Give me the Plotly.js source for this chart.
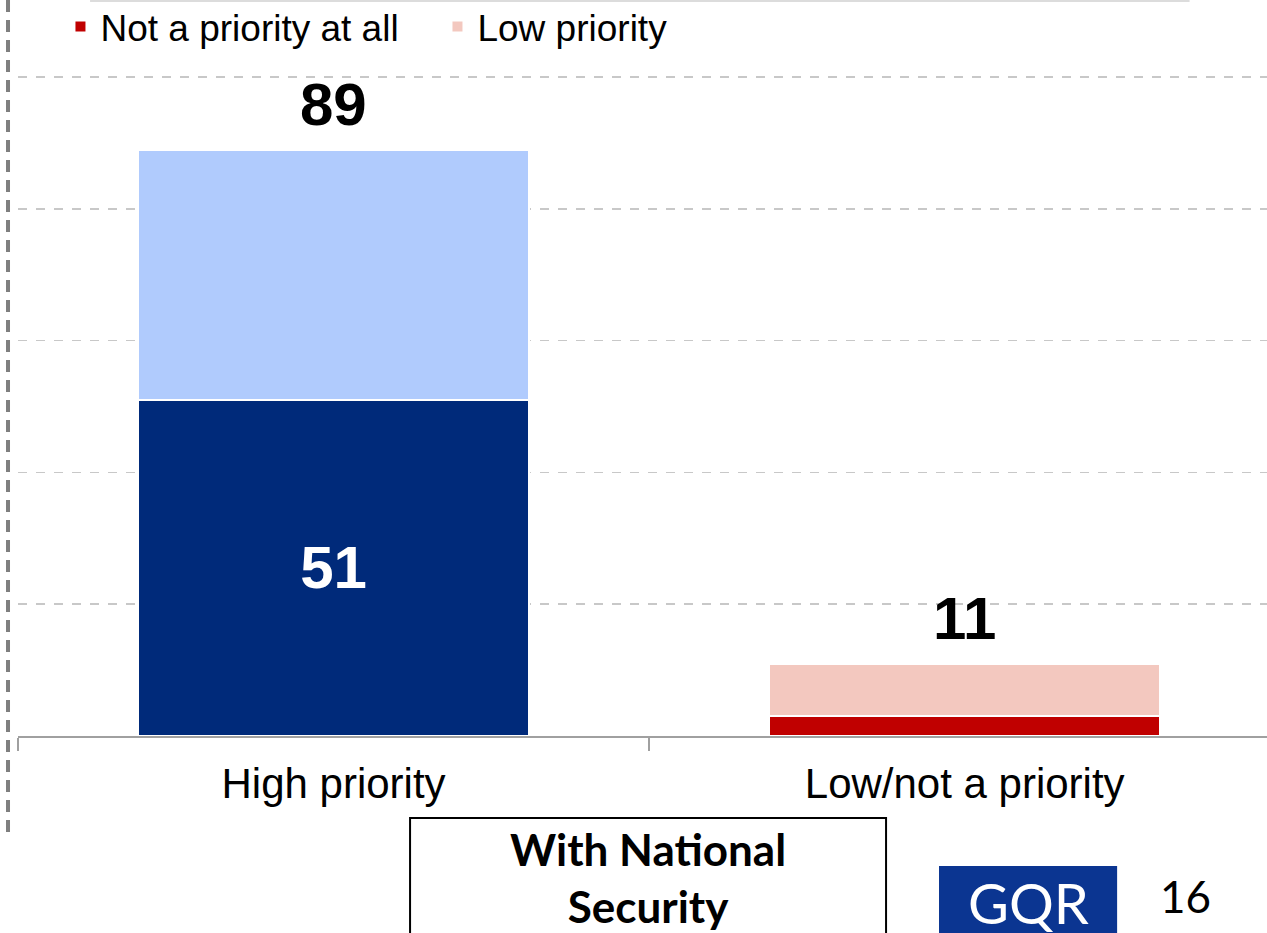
<!DOCTYPE html>
<html>
<head>
<meta charset="utf-8">
<script src="https://cdn.plot.ly/plotly-3.0.1.min.js"></script>
<style>html,body{margin:0;padding:0;background:#fff;}#chart{width:1267px;height:933px;}</style>
</head>
<body>
<div id="chart"></div>
<script>
// ---- data ----
const categories = ["High priority", "Low/not a priority"];
const veryHigh = [51, null];          // dark navy segment
const somewhatHigh = [38, null];      // light blue segment
const notAtAll = [null, 3];           // red segment
const lowPriority = [null, 8];        // pink segment
const totals = [89, 11];
const seriesNames = ["Very high priority", "Somewhat high priority", "Not a priority at all", "Low priority"];
const boxText = "With National<br>Security";
const logoText = "GQR";
const pageNumber = "16";

const ARIAL = "Arial, 'Liberation Sans', sans-serif";
const CAL = "Lato, 'Open Sans', sans-serif";

function barTrace(name, vals, color, showlegend, withText) {
  const t = {
    type: "bar", name: name, x: categories, y: vals,
    marker: {color: color, line: {color: "#ffffff", width: 2}},
    showlegend: showlegend, hoverinfo: "skip"
  };
  if (withText) {
    t.text = vals.map(v => v == null ? "" : String(v));
    t.textposition = "inside";
    t.insidetextanchor = "middle";
    t.insidetextfont = {family: ARIAL, size: 60, color: "#ffffff", weight: "bold"};
  } else {
    t.textposition = "none";
  }
  return t;
}

const traces = [
  barTrace(seriesNames[0], veryHigh, "#002a7a", false, true),
  barTrace(seriesNames[1], somewhatHigh, "#b0cbfd", false, false),
  barTrace(seriesNames[2], notAtAll, "#c00000", true, false),
  barTrace(seriesNames[3], lowPriority, "#f3c8bf", true, false)
];

const annotations = categories.map((c, i) => ({
  x: c, y: totals[i], xref: "x", yref: "y",
  text: String(totals[i]), showarrow: false,
  yanchor: "bottom", yshift: 10,
  font: {family: ARIAL, size: 60, color: "#000000", weight: "bold"}
}));
annotations.push({
  xref: "paper", yref: "paper", x: 0.5043, y: -0.1916,
  text: boxText, showarrow: false, xanchor: "center", yanchor: "middle",
  font: {family: CAL, size: 44, color: "#000000", weight: "bold"}
});
annotations.push({
  xref: "paper", yref: "paper", x: 0.8087, y: -0.2260,
  text: logoText, showarrow: false, xanchor: "center", yanchor: "middle",
  font: {family: CAL, size: 56, color: "#ffffff"}
});
annotations.push({
  xref: "paper", yref: "paper", x: 0.9344, y: -0.2174,
  text: pageNumber, showarrow: false, xanchor: "center", yanchor: "middle",
  font: {family: CAL, size: 44, color: "#000000"}
});

const layout = {
  width: 1267, height: 933,
  margin: {l: 18, r: 0, t: 0, b: 197, pad: 0, autoexpand: false},
  paper_bgcolor: "#ffffff", plot_bgcolor: "#ffffff",
  barmode: "stack", bargap: 0.38,
  showlegend: true,
  legend: {
    orientation: "h", x: 0.034, xanchor: "left", y: 1.0054, yanchor: "top",
    font: {family: ARIAL, size: 37, color: "#000000"},
    bgcolor: "rgba(0,0,0,0)", traceorder: "normal", entrywidth: 332
  },
  xaxis: {
    type: "category", range: [-0.5, 1.479], fixedrange: true, automargin: false,
    showline: true, linecolor: "#a0a0a0", linewidth: 2,
    ticks: "outside", tickson: "boundaries", ticklen: 13, tickcolor: "#a0a0a0", tickwidth: 2,
    ticklabelstandoff: 10,
    tickfont: {family: ARIAL, size: 42, color: "#000000"},
    showgrid: false, zeroline: false
  },
  yaxis: {
    range: [0, 111.7], fixedrange: true, dtick: 20, tick0: 0, automargin: false,
    showticklabels: false, ticks: "", showline: false, zeroline: false,
    showgrid: true, gridcolor: "#c8c8c8", gridwidth: 1.5, griddash: "dash"
  },
  shapes: [
    {type: "line", xref: "paper", yref: "paper", x0: -0.008, x1: -0.008, y0: 1.0, y1: -0.141,
     line: {color: "#7f7f7f", width: 4, dash: "12px,8px"}},
    {type: "line", xref: "paper", yref: "paper", x0: 0.0577, x1: 0.938, y0: 0.9986, y1: 0.9986,
     line: {color: "#dcdcdc", width: 2}},
    {type: "rect", xref: "paper", yref: "paper", x0: 0.3139, x1: 0.695, y0: -0.1114, y1: -0.3,
     line: {color: "#000000", width: 2}, fillcolor: "rgba(0,0,0,0)"},
    {type: "rect", xref: "paper", yref: "paper", x0: 0.7374, x1: 0.88, y0: -0.1766, y1: -0.3,
     line: {width: 0}, fillcolor: "#0b3591"}
  ],
  annotations: annotations
};

Plotly.newPlot("chart", traces, layout, {displayModeBar: false, staticPlot: true});
</script>
</body>
</html>
